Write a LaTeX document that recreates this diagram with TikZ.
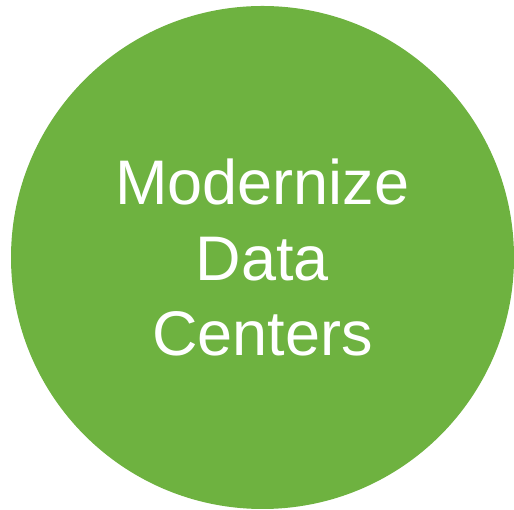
\documentclass[tikz,border=0pt]{standalone}
\usepackage{fontspec}
\setmainfont{Liberation Sans}
\usepackage{xcolor}
\usepackage{tikz}
\usetikzlibrary{positioning}

\definecolor{leafgreen}{RGB}{110,178,64}

\begin{document}
\begin{tikzpicture}[x=1pt, y=1pt, font=\fontsize{63}{75.6}\selectfont]
\tikzstyle{disc} = [circle, fill=leafgreen, draw=none, minimum size=503pt, inner sep=0pt]
\tikzstyle{label} = [text=white, align=center, inner sep=0pt]

\useasboundingbox (0, 0) rectangle (514, 510);

\node[disc]		at (262.5, 252.5)	(dc)	{};
\node[label]	at (dc.center)		(goal)	{Modernize\\Data\\Centers};
\end{tikzpicture}
\end{document}
